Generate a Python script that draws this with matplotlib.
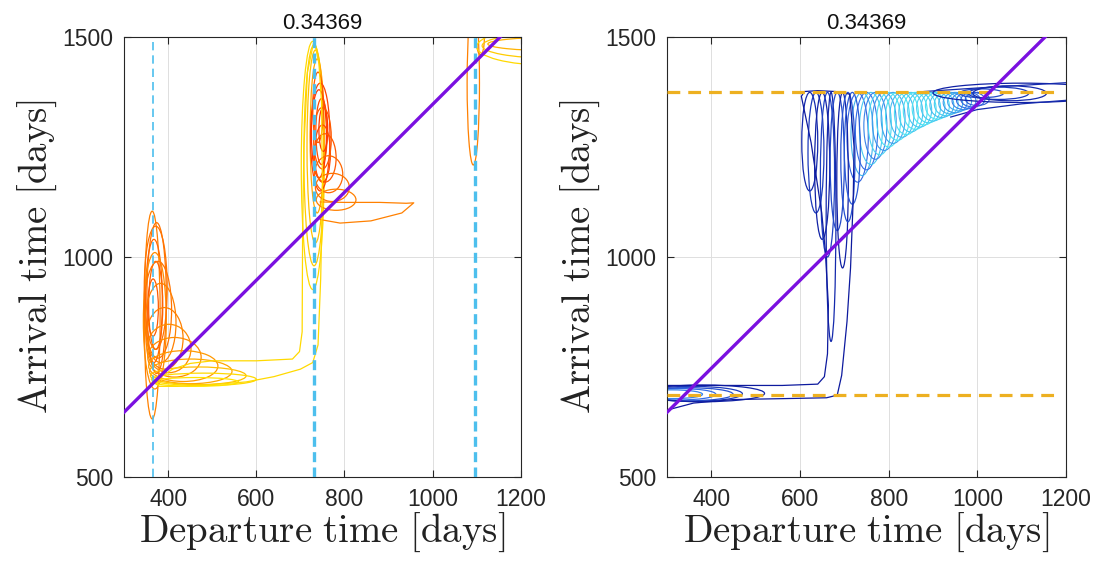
import numpy as np
import matplotlib
matplotlib.use("Agg")
import matplotlib.pyplot as plt
from matplotlib.patches import Ellipse
from matplotlib.colors import LinearSegmentedColormap

plt.rcParams['font.family'] = ['Liberation Sans', 'DejaVu Sans']
plt.rcParams['mathtext.fontset'] = 'cm'

title_value = 0.34369
x_ticks = [400, 600, 800, 1000, 1200]
y_ticks = [500, 1000, 1500]

# synodic reference line: arrival = departure + offset
ref_line_x = [300, 1200]
ref_offset = 347

# Earth years (left) and Mars years (right)
earth_years = [365, 730, 1095]
mars_years = [687, 1374]

# ---- left panel loops (autumn colours) ----
# vertical loops: centre x, bottom, top, half width, colour level
A_tall_xc = [364, 374, 368, 372, 366, 370]
A_tall_bot = [632, 735, 760, 790, 820, 700]
A_tall_top = [1104, 1078, 1040, 990, 950, 1010]
A_tall_hw = [18, 22, 19, 16, 12, 26]
A_tall_lvl = [0.5, 0.45, 0.4, 0.38, 0.35, 0.55]

# horizontal fan loops: left, right, centre y, half height, colour level
A_fan_left = [346, 346, 348, 350, 352, 354, 356, 358, 360, 362, 364]
A_fan_right = [398, 408, 418, 434, 452, 475, 513, 545, 577, 600, 560]
A_fan_yc = [930, 880, 850, 815, 792, 772, 752, 740, 730, 722, 716]
A_fan_hh = [140, 110, 90, 70, 55, 45, 35, 28, 20, 14, 10]
A_fan_lvl = [0.45, 0.45, 0.5, 0.5, 0.55, 0.55, 0.6, 0.65, 0.75, 0.85, 0.9]

B_tall_xc = [728, 731, 734, 738, 745, 742, 748, 752, 740, 750]
B_tall_bot = [926, 980, 1032, 1100, 1150, 1180, 1210, 1240, 1260, 1170]
B_tall_top = [1490, 1482, 1470, 1450, 1395, 1380, 1360, 1340, 1420, 1300]
B_tall_hw = [26, 23, 19, 16, 22, 17, 13, 10, 12, 18]
B_tall_lvl = [0.85, 0.8, 0.75, 0.65, 0.25, 0.2, 0.3, 0.22, 0.35, 0.28]

B_fan_left = [730, 730, 732, 734, 736]
B_fan_right = [770, 781, 796, 811, 826]
B_fan_yc = [1270, 1225, 1188, 1158, 1130]
B_fan_hh = [70, 55, 42, 32, 24]
B_fan_lvl = [0.35, 0.35, 0.4, 0.45, 0.5]

# long flat lobe to the right of the second year
B_flat_x = [745, 800, 880, 940, 957, 930, 860, 790, 745]
B_flat_y = [1125, 1124, 1124, 1122, 1123, 1100, 1082, 1077, 1085]

C_tall_xc = [1092, 1108]
C_tall_bot = [1209, 1460]
C_tall_top = [1580, 1530]
C_tall_hw = [14, 9]
C_tall_lvl = [0.5, 0.55]

C_band_left = [1100, 1112, 1125]
C_band_right = [1420, 1420, 1420]
C_band_yc = [1478, 1480, 1484]
C_band_hh = [42, 28, 15]
C_band_lvl = [0.85, 0.8, 0.7]

# outer contour linking the first and second year
L_left_x = [731, 716, 708, 705, 704, 698, 682, 600, 500, 450, 410, 385, 372,
            380, 420, 500, 577, 640, 700, 728, 740, 746, 750, 748, 742, 731]
L_left_y = [1492, 1420, 1250, 1050, 830, 785, 768, 764, 764, 758, 745, 728, 712,
            706, 706, 710, 716, 728, 745, 760, 800, 950, 1150, 1350, 1440, 1492]

# ---- right panel loops (blue colours) ----
fin_top = 1374
D_fin_xc = [622, 636, 650, 662, 670, 684, 696, 708, 718]
D_fin_bot = [1150, 1100, 1040, 1000, 808, 1060, 975, 1080, 1120]
D_fin_hw = [18, 18, 17, 16, 11, 16, 13, 16, 18]
D_fin_lvl = [0.1, 0.2, 0.05, 0.25, 0.1, 0.3, 0.05, 0.35, 0.4]

E_fin_xc = [730, 740, 750, 760, 770, 780, 790, 800, 810, 820, 830, 840, 850, 860,
            870, 880, 890, 900, 910, 920, 930, 940, 950, 960, 970, 980, 990, 1000]
E_fin_bot = [1170, 1185, 1198, 1210, 1222, 1232, 1242, 1250, 1258, 1265, 1272, 1278,
             1284, 1290, 1295, 1300, 1305, 1309, 1313, 1317, 1321, 1325, 1328, 1332,
             1335, 1338, 1341, 1344]
E_fin_hw = [24, 25, 25, 26, 26, 26, 27, 27, 27, 27, 27, 27, 27, 27,
            27, 27, 27, 27, 27, 27, 27, 27, 27, 27, 27, 27, 27, 27]
E_fin_lvl = [0.45, 0.8, 0.5, 0.9, 0.6, 0.95, 0.7, 1.0, 0.75, 1.0, 0.85, 1.0, 0.9, 1.0,
             0.9, 1.0, 0.95, 0.9, 1.0, 0.85, 0.9, 0.8, 0.7, 0.75, 0.6, 0.5, 0.45, 0.4]

# horizontal tail of the upper family
F_band_left = [960, 980, 990, 900]
F_band_right = [1059, 1116, 1156, 1300]
F_band_yc = [1372, 1372, 1372, 1373]
F_band_hh = [10, 14, 17, 22]
F_band_lvl = [0.3, 0.2, 0.1, 0.05]
F_top_x = [880, 1000, 1100, 1200]
F_top_y = [1376, 1384, 1390, 1396]
F_bot_x = [940, 1000, 1100, 1200]
F_bot_y = [1318, 1335, 1348, 1356]

# lower family along the first Mars year
G_band_left = [240, 240, 240, 240, 240]
G_band_right = [380, 410, 449, 470, 520]
G_band_yc = [688, 688, 688, 689, 690]
G_band_hh = [10, 13, 15, 17, 19]
G_band_lvl = [0.6, 0.5, 0.35, 0.2, 0.05]

# outer L-shaped contour joining both families
L_right_x = [300, 560, 640, 655, 662, 664, 657, 649, 625, 603, 610, 640, 680, 712,
             722, 720, 714, 706, 694, 684, 660, 560, 450, 360, 300]
L_right_y = [708, 708, 711, 728, 780, 890, 1015, 1100, 1260, 1365, 1376, 1378, 1376,
             1370, 1250, 1130, 975, 853, 731, 686, 680, 678, 676, 668, 652]

autumn = plt.get_cmap('autumn')
blues = LinearSegmentedColormap.from_list(
    'blues', [(0.05, 0.1, 0.62), (0.2, 0.42, 0.9), (0.3, 0.88, 0.95)])


def vertical_loops(ax, xc, bot, top, hw, lvl, cmap, lw=0.9):
    for i in range(len(xc)):
        ax.add_patch(Ellipse((xc[i], (bot[i] + top[i]) / 2), 2 * hw[i], top[i] - bot[i],
                             fill=False, edgecolor=cmap(lvl[i]), lw=lw))


def horizontal_loops(ax, left, right, yc, hh, lvl, cmap, lw=0.9):
    for i in range(len(left)):
        ax.add_patch(Ellipse(((left[i] + right[i]) / 2, yc[i]), right[i] - left[i], 2 * hh[i],
                             fill=False, edgecolor=cmap(lvl[i]), lw=lw))


def style_axes(ax):
    ax.set_xlim(300, 1200)
    ax.set_ylim(500, 1500)
    ax.set_xticks(x_ticks)
    ax.set_yticks(y_ticks)
    ax.grid(True, color='#dedede', lw=0.7)
    ax.set_axisbelow(True)
    ax.tick_params(direction='in', top=True, right=True, length=5, width=0.8,
                   labelsize=16.5, colors='#262626', pad=8)
    for s in ax.spines.values():
        s.set_color('#262626')
        s.set_linewidth(0.8)
    ax.set_title(f'{title_value:.5f}', fontsize=16, pad=6, color='#111111')
    ax.set_xlabel(r'$\mathrm{Departure\ time\ [days]}$', fontsize=28, labelpad=0, color='#222222')
    ax.set_ylabel(r'$\mathrm{Arrival\ time\ [days]}$', fontsize=28, labelpad=2, color='#222222')


def ref_line(ax):
    ax.plot(ref_line_x, [v + ref_offset for v in ref_line_x], color='#7a10e0', lw=2.4, zorder=6)


fig = plt.figure(figsize=(10.96, 5.65), dpi=100)
ax1 = fig.add_axes([0.1131, 0.1558, 0.3622, 0.7788])
ax2 = fig.add_axes([0.6086, 0.1558, 0.3640, 0.7788])

# left panel
vertical_loops(ax1, A_tall_xc, A_tall_bot, A_tall_top, A_tall_hw, A_tall_lvl, autumn)
horizontal_loops(ax1, A_fan_left, A_fan_right, A_fan_yc, A_fan_hh, A_fan_lvl, autumn)
vertical_loops(ax1, B_tall_xc, B_tall_bot, B_tall_top, B_tall_hw, B_tall_lvl, autumn)
horizontal_loops(ax1, B_fan_left, B_fan_right, B_fan_yc, B_fan_hh, B_fan_lvl, autumn)
ax1.plot(B_flat_x, B_flat_y, color=autumn(0.5), lw=0.9)
vertical_loops(ax1, C_tall_xc, C_tall_bot, C_tall_top, C_tall_hw, C_tall_lvl, autumn)
horizontal_loops(ax1, C_band_left, C_band_right, C_band_yc, C_band_hh, C_band_lvl, autumn)
ax1.plot(L_left_x, L_left_y, color=autumn(0.85), lw=0.9)
for k, yr in enumerate(earth_years):
    ax1.axvline(yr, color=(0.30, 0.75, 0.93), ls=(0, (5, 3)) if k == 0 else (0, (3, 1.6)),
                lw=1.2 if k == 0 else 2.4, zorder=5)
ref_line(ax1)
style_axes(ax1)

# right panel
vertical_loops(ax2, E_fin_xc, E_fin_bot, [fin_top] * len(E_fin_xc), E_fin_hw, E_fin_lvl, blues, lw=0.8)
vertical_loops(ax2, D_fin_xc, D_fin_bot, [fin_top] * len(D_fin_xc), D_fin_hw, D_fin_lvl, blues)
horizontal_loops(ax2, F_band_left, F_band_right, F_band_yc, F_band_hh, F_band_lvl, blues)
ax2.plot(F_top_x, F_top_y, color=blues(0.1), lw=0.9)
ax2.plot(F_bot_x, F_bot_y, color=blues(0.1), lw=0.9)
horizontal_loops(ax2, G_band_left, G_band_right, G_band_yc, G_band_hh, G_band_lvl, blues)
ax2.plot(L_right_x, L_right_y, color=blues(0.0), lw=0.9)
for yr in mars_years:
    ax2.axhline(yr, xmin=0, xmax=0.98, color=(0.93, 0.69, 0.13), ls=(0, (4, 2.5)), lw=2.3, zorder=5)
ref_line(ax2)
style_axes(ax2)

fig.savefig('out.png', dpi=100)
